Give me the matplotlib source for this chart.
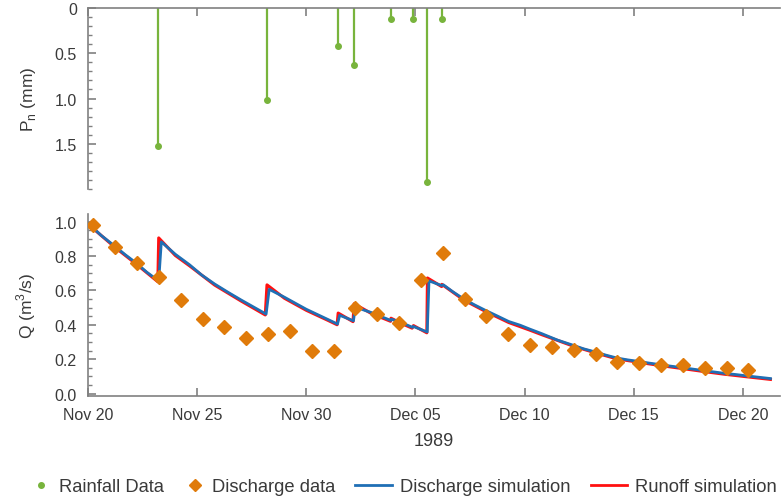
import numpy as np
import pandas as pd
import matplotlib
matplotlib.use("Agg")
import matplotlib.pyplot as plt
import matplotlib.dates as mdates
from matplotlib.lines import Line2D
from matplotlib.ticker import MultipleLocator

plt.rcParams['font.family'] = ['Liberation Sans', 'DejaVu Sans']

start = pd.Timestamp('1989-11-20')

# rainfall events (days after Nov 20, Pn in mm)
rain_day = [3.2, 8.22, 11.46, 12.19, 13.88, 14.91, 15.54, 16.21]
rain_mm = [1.52, 1.02, 0.42, 0.63, 0.125, 0.125, 1.92, 0.125]

# observed discharge, one value per day
obs_time = pd.date_range('1989-11-20 06:00', periods=31, freq='D')
obs_q = [0.98, 0.85, 0.76, 0.675, 0.545, 0.435, 0.385, 0.325, 0.345, 0.365,
         0.245, 0.245, 0.495, 0.465, 0.41, 0.66, 0.82, 0.55, 0.45, 0.345,
         0.285, 0.27, 0.255, 0.228, 0.185, 0.178, 0.167, 0.167, 0.148, 0.148,
         0.138]

# discharge simulation (blue)
sim_day = [0.05, 0.6, 1.23, 1.7, 2.22, 2.7, 3.24, 3.36, 4.0, 4.66, 5.2, 5.8,
           6.4, 7.0, 7.6, 8.16, 8.3, 9.0, 9.5, 10.0, 10.5, 11.0, 11.43, 11.53,
           12.16, 12.25, 12.6, 13.0, 13.4, 13.87, 13.9, 14.4, 14.86, 14.9,
           15.54, 15.62, 16.2, 16.28, 16.7, 17.21, 17.7, 18.2, 18.7, 19.27,
           19.8, 20.23, 20.79, 21.5, 22.24, 22.7, 23.23, 23.7, 24.21, 24.7,
           25.2, 25.7, 26.2, 26.7, 27.18, 27.7, 28.2, 28.7, 29.16, 29.7, 30.2,
           30.7, 31.26]
sim_q = [0.985, 0.92, 0.857, 0.808, 0.758, 0.705, 0.655, 0.882, 0.81, 0.748,
         0.69, 0.637, 0.59, 0.545, 0.502, 0.462, 0.606, 0.56, 0.525, 0.49,
         0.46, 0.43, 0.404, 0.455, 0.423, 0.505, 0.487, 0.47, 0.449, 0.425,
         0.432, 0.41, 0.385, 0.39, 0.358, 0.655, 0.628, 0.632, 0.593, 0.55,
         0.516, 0.484, 0.454, 0.419, 0.397, 0.375, 0.348, 0.311, 0.28, 0.26,
         0.242, 0.224, 0.207, 0.196, 0.187, 0.177, 0.168, 0.159, 0.151, 0.142,
         0.133, 0.125, 0.117, 0.11, 0.102, 0.095, 0.087]

# runoff simulation (red)
run_day = [0.05, 1.23, 2.22, 3.2, 3.24, 4.0, 4.66, 5.8, 7.0, 8.12, 8.2, 9.0,
           10.0, 11.0, 11.41, 11.46, 12.14, 12.19, 13.0, 13.86, 13.88, 14.4,
           14.85, 14.91, 15.52, 15.55, 16.2, 16.21, 17.21, 18.2, 19.27, 20.23,
           20.79, 22.24, 23.23, 24.21, 25.2, 26.2, 27.18, 28.2, 29.16, 30.2,
           31.26]
run_q = [0.98, 0.851, 0.752, 0.65, 0.905, 0.803, 0.742, 0.631, 0.539, 0.457,
         0.632, 0.554, 0.484, 0.425, 0.4, 0.468, 0.418, 0.522, 0.464, 0.42,
         0.438, 0.405, 0.38, 0.395, 0.353, 0.672, 0.622, 0.635, 0.544, 0.478,
         0.413, 0.369, 0.342, 0.275, 0.237, 0.202, 0.182, 0.163, 0.146, 0.128,
         0.112, 0.097, 0.082]

green = '#78b43c'
orange = '#e07b0a'
blue = '#1f6fb5'
red = '#ff1010'
gray = '#808080'
txt = '#3a3a3a'

def to_time(days):
    return start + pd.to_timedelta(days, unit='D')

fig = plt.figure(figsize=(7.82, 5.02), dpi=100)
ax1 = fig.add_axes([0.1125, 0.6215, 0.885, 0.3605])
ax2 = fig.add_axes([0.1125, 0.209, 0.885, 0.363])

xmin = start
xmax = to_time(31.7)

# --- rainfall panel
rt = to_time(rain_day)
ax1.vlines(rt, 0, rain_mm, color=green, lw=1.6)
ax1.plot(rt, rain_mm, 'o', color=green, ms=4)
ax1.set_ylim(2.0, 0)
ax1.set_xlim(xmin, xmax)
ax1.set_yticks([0, 0.5, 1.0, 1.5])
ax1.set_yticklabels(['0', '0.5', '1.0', '1.5'])
ax1.yaxis.set_minor_locator(MultipleLocator(0.1))
ax1.xaxis.tick_top()
ax1.xaxis.set_major_locator(mdates.DayLocator(bymonthday=[5, 10, 15, 20, 25, 30]))
ax1.tick_params(axis='x', labeltop=False, labelbottom=False)
ax1.set_ylabel(r'P$_\mathregular{n}$ (mm)', fontsize=12.5, color=txt, labelpad=12)
for s in ['bottom', 'right']:
    ax1.spines[s].set_visible(False)

# --- discharge panel
ax2.plot(to_time(run_day), run_q, color=red, lw=2.2, zorder=2)
ax2.plot(to_time(sim_day), sim_q, color=blue, lw=2.0, zorder=3)
ax2.plot(obs_time, obs_q, 'D', color=orange, ms=7, zorder=4)
ax2.set_ylim(-0.015, 1.045)
ax2.set_xlim(xmin, xmax)
ax2.set_yticks(np.arange(0, 1.01, 0.2))
ax2.yaxis.set_major_formatter(plt.FormatStrFormatter('%.1f'))
ax2.yaxis.set_minor_locator(MultipleLocator(0.05))
ax2.xaxis.set_major_locator(mdates.DayLocator(bymonthday=[5, 10, 15, 20, 25, 30]))
ax2.xaxis.set_major_formatter(mdates.DateFormatter('%b %d'))
ax2.set_ylabel(r'Q (m$^\mathregular{3}$/s)', fontsize=12.5, color=txt, labelpad=12)
ax2.set_xlabel('1989', fontsize=13, color=txt, labelpad=7)
for s in ['top', 'right']:
    ax2.spines[s].set_visible(False)

for ax in (ax1, ax2):
    for s in ax.spines.values():
        s.set_color(gray)
        s.set_linewidth(1.2)
    ax.tick_params(which='major', direction='in', length=6, width=1.2,
                   color=gray, labelsize=11.5, labelcolor=txt, pad=8)
    ax.tick_params(which='minor', direction='in', length=3, width=1,
                   color=gray)
    ax.tick_params(axis='x', which='minor', length=0)

# legend: marker entries and line entries drawn as two groups in one row
leg_kw = dict(loc='center left', frameon=False, fontsize=13.2, labelcolor=txt,
              borderpad=0, borderaxespad=0, handletextpad=0.45, ncol=2)
mark_handles = [
    Line2D([], [], marker='o', ls='none', color=green, ms=4),
    Line2D([], [], marker='D', ls='none', color=orange, ms=6),
]
line_handles = [
    Line2D([], [], color=blue, lw=2),
    Line2D([], [], color=red, lw=2),
]
fig.legend(mark_handles, ['Rainfall Data', 'Discharge data'],
           bbox_to_anchor=(32 / 782, 0.028), handlelength=1.0,
           columnspacing=1.2, **leg_kw)
fig.legend(line_handles, ['Discharge simulation', 'Runoff simulation'],
           bbox_to_anchor=(355 / 782, 0.028), handlelength=2.0,
           columnspacing=1.1, **leg_kw)

fig.savefig('out.png', dpi=100)
